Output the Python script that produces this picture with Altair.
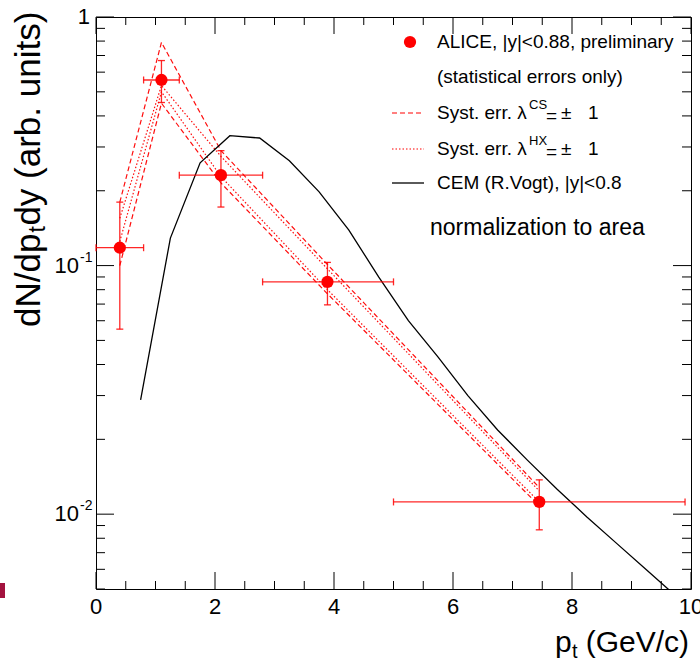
import altair as alt
import pandas as pd

# ---------------- data ----------------
pt = [0.40, 1.10, 2.10, 3.89, 7.45]
pt_lo = [0.00, 0.80, 1.40, 2.80, 5.00]
pt_hi = [0.80, 1.40, 2.80, 5.00, 9.90]
yld = [0.118, 0.558, 0.231, 0.086, 0.0112]
yld_lo = [0.0555, 0.453, 0.172, 0.0695, 0.00865]
yld_hi = [0.180, 0.668, 0.290, 0.103, 0.01374]

cs_plus = [0.180, 0.790, 0.290, 0.101, 0.0128]
cs_minus = [0.100, 0.450, 0.215, 0.077, 0.0108]
hx_plus = [0.155, 0.530, 0.275, 0.097, 0.0124]
hx_minus = [0.125, 0.500, 0.228, 0.080, 0.0112]

cem_pt = [0.75, 1.25, 1.75, 2.25, 2.75, 3.25, 3.75, 4.25, 4.75, 5.25,
          5.75, 6.25, 6.75, 7.25, 7.75, 8.25, 8.75, 9.25, 9.75]
cem_val = [0.0288, 0.129, 0.259, 0.333, 0.326, 0.264, 0.198, 0.139, 0.090, 0.060,
           0.0428, 0.030, 0.0218, 0.0165, 0.0126, 0.00975, 0.00763, 0.00597, 0.00468]

x_major = [0, 2, 4, 6, 8, 10]
x_minor = [0.5, 1, 1.5, 2.5, 3, 3.5, 4.5, 5, 5.5, 6.5, 7, 7.5, 8.5, 9, 9.5]
y_major = [0.01, 0.1, 1]
y_minor = [0.005, 0.006, 0.007, 0.008, 0.009,
           0.02, 0.03, 0.04, 0.05, 0.06, 0.07, 0.08, 0.09,
           0.2, 0.3, 0.4, 0.5, 0.6, 0.7, 0.8, 0.9]

# ---------------- layout ----------------
L, T = 96, 17
W, H = 595, 572
FONT = "Liberation Sans"
RED = "#ff0000"

xs = alt.Scale(domain=[0, 10], nice=False, zero=False)
ys = alt.Scale(type="log", domain=[0.005, 1], nice=False)


def X(f):
    return alt.X(f, type="quantitative", scale=xs, axis=None)


def Y(f):
    return alt.Y(f, type="quantitative", scale=ys, axis=None)


one = pd.DataFrame({"a": [0]})


def txt(s, x, y, size, align="left", baseline="middle", angle=None, color="black"):
    kw = dict(text=s, fontSize=size, font=FONT, align=align, baseline=baseline, color=color)
    if angle:
        kw["angle"] = angle
    return alt.Chart(one).mark_text(**kw).encode(x=alt.value(x - L), y=alt.value(y - T))


layers = []

# ---------------- systematic lines ----------------
def series_df(vals, name):
    return pd.DataFrame({"pt": pt, "v": vals, "s": name})

dashed = pd.concat([series_df(cs_plus, "cs+"), series_df(cs_minus, "cs-")])
dotted = pd.concat([series_df(hx_plus, "hx+"), series_df(hx_minus, "hx-")])

layers.append(alt.Chart(dashed).mark_line(color=RED, strokeWidth=1.2, strokeDash=[5, 3], opacity=0.95)
              .encode(x=X("pt"), y=Y("v"), detail="s:N"))
layers.append(alt.Chart(dotted).mark_line(color=RED, strokeWidth=1.2, strokeDash=[1.5, 2], opacity=0.95)
              .encode(x=X("pt"), y=Y("v"), detail="s:N"))

# ---------------- CEM ----------------
cem = pd.DataFrame({"pt": cem_pt, "v": cem_val})
layers.append(alt.Chart(cem).mark_line(color="black", strokeWidth=1.3, clip=True)
              .encode(x=X("pt"), y=Y("v")))

# ---------------- ALICE points ----------------
pts = pd.DataFrame({"pt": pt, "lo": pt_lo, "hi": pt_hi, "y": yld, "ylo": yld_lo, "yhi": yld_hi})
layers.append(alt.Chart(pts).mark_rule(color=RED, strokeWidth=1.3, opacity=0.85)
              .encode(x=X("lo"), x2="hi", y=Y("y")))
layers.append(alt.Chart(pts).mark_rule(color=RED, strokeWidth=1.3, opacity=0.85)
              .encode(x=X("pt"), y=Y("ylo"), y2="yhi"))
layers.append(alt.Chart(pts).transform_fold(["lo", "hi"], as_=["k", "xe"])
              .mark_tick(orient="vertical", size=7, thickness=1.3, color=RED, opacity=0.85)
              .encode(x=X("xe"), y=Y("y")))
layers.append(alt.Chart(pts).transform_fold(["ylo", "yhi"], as_=["k", "ye"])
              .mark_tick(orient="horizontal", size=7, thickness=1.3, color=RED, opacity=0.85)
              .encode(x=X("pt"), y=Y("ye")))
layers.append(alt.Chart(pts).mark_circle(size=150, color=RED, opacity=1)
              .encode(x=X("pt"), y=Y("y")))

# ---------------- ticks (inward, all four sides) ----------------
dxm = pd.DataFrame({"v": x_major})
dxn = pd.DataFrame({"v": x_minor})
dym = pd.DataFrame({"v": y_major})
dyn = pd.DataFrame({"v": y_minor})
for d, ln in ((dxm, 17), (dxn, 8)):
    layers.append(alt.Chart(d).mark_rule(color="black", strokeWidth=1)
                  .encode(x=X("v"), y=alt.value(H), y2=alt.value(H - ln)))
    layers.append(alt.Chart(d).mark_rule(color="black", strokeWidth=1)
                  .encode(x=X("v"), y=alt.value(0), y2=alt.value(ln)))
for d, ln in ((dym, 18), (dyn, 9)):
    layers.append(alt.Chart(d).mark_rule(color="black", strokeWidth=1)
                  .encode(y=Y("v"), x=alt.value(0), x2=alt.value(ln)))
    layers.append(alt.Chart(d).mark_rule(color="black", strokeWidth=1)
                  .encode(y=Y("v"), x=alt.value(W), x2=alt.value(W - ln)))

# ---------------- tick labels ----------------
xlab = pd.DataFrame({"v": x_major, "t": [str(v) for v in x_major]})
layers.append(alt.Chart(xlab).mark_text(fontSize=22, font=FONT, align="center", baseline="middle")
              .encode(x=X("v"), y=alt.value(607 - T), text="t:N"))
ylab = pd.DataFrame({"v": [1.0], "t": ["1"]})
layers.append(alt.Chart(ylab).mark_text(fontSize=22, font=FONT, align="right", baseline="middle")
              .encode(y=Y("v"), x=alt.value(90 - L), text="t:N"))
ylab2 = pd.DataFrame({"v": [0.1, 0.01], "t": ["10", "10"], "e": ["-1", "-2"]})
layers.append(alt.Chart(ylab2).mark_text(fontSize=22, font=FONT, align="right", baseline="middle")
              .encode(y=Y("v"), x=alt.value(79 - L), text="t:N"))
layers.append(alt.Chart(ylab2).mark_text(fontSize=14, font=FONT, align="left", baseline="middle", dy=-8)
              .encode(y=Y("v"), x=alt.value(80 - L), text="e:N"))

# ---------------- axis titles ----------------
# y title (rotated, reading bottom to top)
YF = 35
ystart = 327
w1 = 2.668 * YF
layers.append(txt("dN/dp", 29, ystart, YF, align="left", angle=270))
layers.append(txt("t", 38, ystart - w1 - 1, 23, align="left", angle=270))
layers.append(txt("dy (arb. units)", 29, ystart - w1 - 8, YF, align="left", angle=270))
# x title
layers.append(txt("(GeV/c)", 689, 643, 30, align="right"))
layers.append(txt("t", 572, 652, 20, align="left"))
layers.append(txt("p", 555, 643, 30, align="left"))

# ---------------- legend ----------------
LX = 437
rows = [42, 77, 113, 149, 183]
layers.append(alt.Chart(one).mark_circle(size=150, color=RED, opacity=1)
              .encode(x=alt.value(410 - L), y=alt.value(rows[0] - T)))
layers.append(txt("ALICE, |y|<0.88, preliminary", LX, rows[0], 19))
layers.append(txt("(statistical errors only)", LX, rows[1], 19))

layers.append(alt.Chart(one).mark_rule(color=RED, strokeWidth=1.2, strokeDash=[5, 3])
              .encode(x=alt.value(392 - L), x2=alt.value(424 - L), y=alt.value(rows[2] - T)))
layers.append(alt.Chart(one).mark_rule(color=RED, strokeWidth=1.2, strokeDash=[1.5, 2])
              .encode(x=alt.value(392 - L), x2=alt.value(424 - L), y=alt.value(rows[3] - T)))
layers.append(alt.Chart(one).mark_rule(color="black", strokeWidth=1.3)
              .encode(x=alt.value(392 - L), x2=alt.value(424 - L), y=alt.value(rows[4] - T)))

for r, sup in ((rows[2], "CS"), (rows[3], "HX")):
    layers.append(txt("Syst. err. λ", LX, r, 19))
    layers.append(txt(sup, 529, r - 8, 13))
    layers.append(txt("=", 546, r + 3, 19))
    layers.append(txt("±", 561, r, 19))
    layers.append(txt("1", 588, r, 19))

layers.append(txt("CEM (R.Vogt), |y|<0.8", LX, rows[4], 19))
layers.append(txt("normalization to area", 430, 228, 23))

# small mark at the left edge
layers.append(alt.Chart(one).mark_rect(color="#a3123e")
              .encode(x=alt.value(0 - L), x2=alt.value(5 - L), y=alt.value(583 - T), y2=alt.value(598 - T)))

chart = (
    alt.layer(*layers)
    .properties(
        width=W,
        height=H,
        padding={"left": L, "top": T, "right": 700 - L - W, "bottom": 664 - T - H},
        autosize=alt.AutoSizeParams(type="none"),
        background="white",
    )
    .configure_view(stroke="black", strokeWidth=1)
)

chart.save("out.html", embed_options={"renderer": "svg", "actions": False})
